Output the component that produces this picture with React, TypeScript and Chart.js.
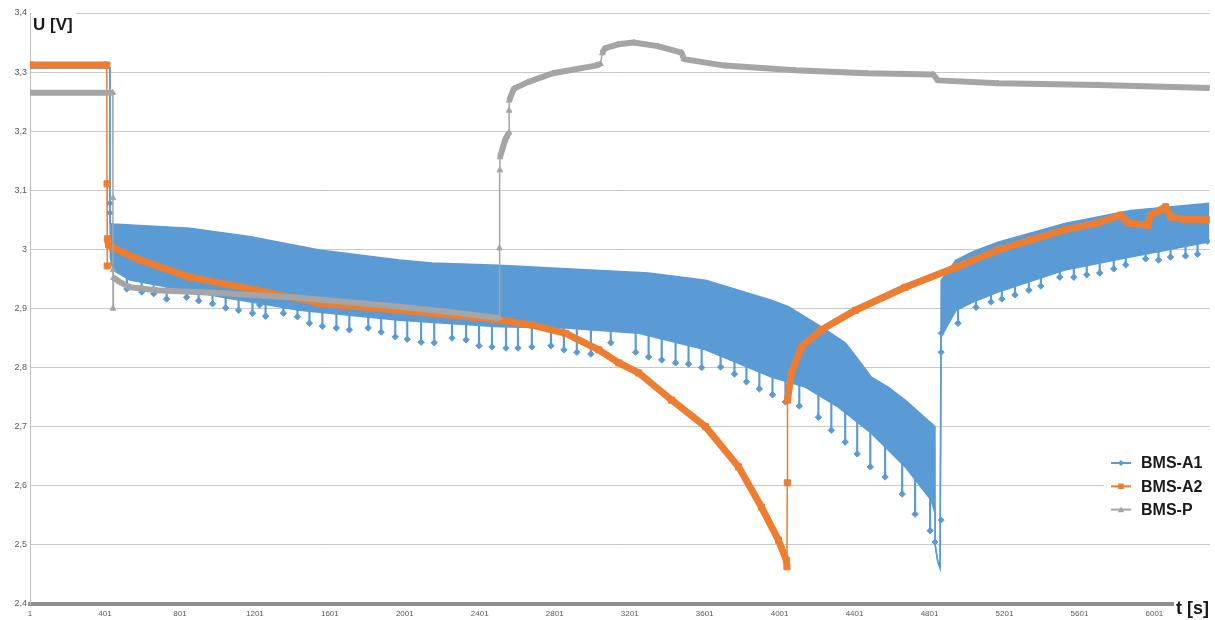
import React, { useEffect, useRef } from 'react';
import { Chart, registerables } from 'chart.js';

Chart.register(...registerables);

// ---------- data ----------
const xTickValues = [1, 401, 801, 1201, 1601, 2001, 2401, 2801, 3201, 3601, 4001, 4401, 4801, 5201, 5601, 6001];
const yTickValues = [2.4, 2.5, 2.6, 2.7, 2.8, 2.9, 3.0, 3.1, 3.2, 3.3, 3.4];
const seriesNames = ['BMS-A1', 'BMS-A2', 'BMS-P'];
const xMin = 1;
const xMax = 6296;

// BMS-A1: upper edge of the dense oscillation band [t, U]
const a1Upper: [number, number][] = [
  [1, 3.307], [427, 3.307], [427.5, 3.078], [428, 3.062], [429, 3.044], [443, 3.043], [853, 3.036],
  [1172, 3.022], [1545, 2.999], [1971, 2.982], [2147, 2.977], [2504, 2.973], [3302, 2.96], [3606, 2.948],
  [3957, 2.914], [4048, 2.903], [4224, 2.869], [4351, 2.842], [4405, 2.82], [4490, 2.784], [4580, 2.767],
  [4671, 2.745], [4830, 2.7], [4831, 2.5], [4845, 2.472], [4857, 2.461], [4862, 2.461], [4863, 2.948],
  [4942, 2.982], [5033, 2.996], [5166, 3.012], [5523, 3.044], [5874, 3.066], [6295, 3.078],
];

// BMS-A1: lower edge of the dense oscillation band [t, U]
const a1Lower: [number, number][] = [
  [1, 3.307], [427, 3.307], [427.5, 3.078], [430, 2.985], [443, 2.965], [534, 2.948], [1029, 2.919],
  [1439, 2.897], [1971, 2.88], [2504, 2.869], [2860, 2.867], [3249, 2.858], [3606, 2.83], [3957, 2.784],
  [4138, 2.767], [4314, 2.733], [4490, 2.689], [4671, 2.632], [4809, 2.576], [4830, 2.554], [4831, 2.5],
  [4845, 2.472], [4857, 2.461], [4862, 2.461], [4863, 2.852], [4942, 2.897], [5033, 2.911], [5166, 2.928],
  [5523, 2.965], [5874, 2.987], [6295, 3.013],
];

// BMS-A1: tips of the periodic downward spikes [t, U]
const a1SpikeTips: [number, number][] = [
  [518, 2.933], [597, 2.928], [661, 2.925], [730, 2.916], [837, 2.919], [901, 2.913], [975, 2.908],
  [1045, 2.901], [1114, 2.897], [1188, 2.892], [1226, 2.906], [1258, 2.887], [1353, 2.892], [1428, 2.886],
  [1492, 2.875], [1561, 2.87], [1636, 2.867], [1705, 2.864], [1806, 2.867], [1875, 2.86], [1950, 2.852],
  [2014, 2.848], [2088, 2.843], [2158, 2.842], [2253, 2.85], [2328, 2.847], [2397, 2.837], [2466, 2.835],
  [2541, 2.833], [2605, 2.833], [2679, 2.835], [2781, 2.837], [2850, 2.83], [2919, 2.826], [2994, 2.823],
  [3100, 2.842], [3233, 2.826], [3302, 2.818], [3372, 2.813], [3446, 2.808], [3515, 2.806], [3585, 2.8],
  [3686, 2.801], [3760, 2.789], [3824, 2.776], [3893, 2.764], [3963, 2.754], [4032, 2.742], [4106, 2.735],
  [4208, 2.716], [4277, 2.694], [4351, 2.674], [4415, 2.654], [4485, 2.632], [4564, 2.615], [4655, 2.586],
  [4724, 2.552], [4804, 2.524], [4953, 2.875], [5049, 2.902], [5129, 2.911], [5187, 2.916], [5257, 2.923],
  [5331, 2.931], [5395, 2.938], [5496, 2.953], [5571, 2.953], [5640, 2.957], [5709, 2.96], [5784, 2.967],
  [5848, 2.974], [5954, 2.984], [6023, 2.982], [6087, 2.987], [6167, 2.989], [6231, 2.992], [6284, 3.014],
];

// BMS-A1: isolated markers on the steep jumps [t, U]
const a1JumpMarks: [number, number][] = [
  [427.5, 3.078], [428, 3.062], [4830, 2.505], [4863, 2.542], [4863, 2.826], [4863, 2.858],
];

// BMS-A2 [t, U]
const a2Values: [number, number][] = [
  [1, 3.312], [411, 3.312], [412, 3.111], [413, 2.972], [414, 3.018], [420, 3.008], [443, 3.003],
  [587, 2.982], [853, 2.953], [1210, 2.931], [1545, 2.909], [1971, 2.897], [2504, 2.881], [2679, 2.872],
  [2860, 2.858], [3036, 2.83], [3143, 2.808], [3249, 2.791], [3425, 2.745], [3606, 2.7], [3782, 2.632],
  [3904, 2.564], [3995, 2.508], [4037, 2.474], [4040, 2.463], [4042, 2.605], [4043, 2.745], [4064, 2.791],
  [4117, 2.835], [4224, 2.864], [4405, 2.897], [4671, 2.936], [4942, 2.97], [5166, 2.999], [5342, 3.016],
  [5523, 3.033], [5699, 3.045], [5821, 3.058], [5858, 3.045], [5965, 3.041], [5981, 3.058], [6061, 3.072],
  [6087, 3.055], [6162, 3.051], [6295, 3.05],
];

// BMS-P [t, U]
const pValues: [number, number][] = [
  [1, 3.265], [443, 3.265], [443.5, 3.087], [444, 2.9], [444.5, 2.965], [447, 2.952], [480, 2.945],
  [534, 2.936], [677, 2.931], [1029, 2.926], [1439, 2.918], [1971, 2.903], [2237, 2.894], [2504, 2.884],
  [2506, 3.002], [2508, 3.134], [2509, 3.156], [2536, 3.185], [2557, 3.198], [2557.5, 3.235], [2558, 3.252],
  [2583, 3.272], [2658, 3.283], [2791, 3.298], [3020, 3.311], [3045, 3.314], [3055, 3.332], [3068, 3.34],
  [3140, 3.347], [3222, 3.35], [3350, 3.344], [3478, 3.333], [3490, 3.322], [3707, 3.311], [4085, 3.303],
  [4468, 3.298], [4820, 3.296], [4846, 3.286], [5166, 3.281], [5699, 3.278], [6295, 3.273],
];

// ---------- styles ----------
const BLUE = '#5B9BD5';
const ORANGE = '#ED7D31';
const GRAY = '#A5A5A5';
const FONT = "'Liberation Sans', Arial, sans-serif";
const SPIKE_STEM = 0.06;

const toXY = (arr: [number, number][]) => arr.map(([x, y]) => ({ x, y }));
const fmtY = (v: number) => String(Number(v.toFixed(1))).replace('.', ',');

const steepWidth = (w: number) => (ctx: any) => {
  const dx = Math.abs(ctx.p1.x - ctx.p0.x);
  const dy = Math.abs(ctx.p1.y - ctx.p0.y);
  return dx < 2 && dy > 6 ? 1.5 : w;
};

function drawMarker(ctx: CanvasRenderingContext2D, style: string, x: number, y: number, r: number) {
  ctx.beginPath();
  if (style === 'diamond') {
    ctx.moveTo(x, y - r); ctx.lineTo(x + r, y); ctx.lineTo(x, y + r); ctx.lineTo(x - r, y);
  } else if (style === 'square') {
    ctx.rect(x - r, y - r, 2 * r, 2 * r);
  } else {
    ctx.moveTo(x, y - r); ctx.lineTo(x + r, y + r * 0.8); ctx.lineTo(x - r, y + r * 0.8);
  }
  ctx.closePath();
  ctx.fill();
}

const overlayPlugin = {
  id: 'overlay',
  afterDraw(chart: any) {
    const ctx: CanvasRenderingContext2D = chart.ctx;
    const area = chart.chartArea;
    ctx.save();
    // axis title U [V]
    ctx.fillStyle = '#ffffff';
    ctx.fillRect(area.left + 1, 4, 45, 30);
    ctx.fillStyle = '#1a1a1a';
    ctx.font = `bold 17px ${FONT}`;
    ctx.textAlign = 'left';
    ctx.textBaseline = 'alphabetic';
    ctx.fillText('U [V]', area.left + 3, 30);
    // axis title t [s]
    ctx.fillStyle = '#ffffff';
    ctx.fillRect(1174, 596, 41, 24);
    ctx.fillStyle = '#1a1a1a';
    ctx.font = `bold 18px ${FONT}`;
    ctx.textBaseline = 'middle';
    ctx.fillText('t [s]', 1176, 609);
    // legend
    ctx.fillStyle = '#ffffff';
    ctx.fillRect(1104, 450, 111, 72);
    const entries = [
      { name: seriesNames[0], color: BLUE, marker: 'diamond', r: 3 },
      { name: seriesNames[1], color: ORANGE, marker: 'square', r: 2.8 },
      { name: seriesNames[2], color: GRAY, marker: 'triangle', r: 3.2 },
    ];
    entries.forEach((e, i) => {
      const y = 463 + i * 23.3;
      ctx.strokeStyle = e.color;
      ctx.lineWidth = 2;
      ctx.beginPath();
      ctx.moveTo(1111, y);
      ctx.lineTo(1131, y);
      ctx.stroke();
      ctx.fillStyle = e.color;
      drawMarker(ctx, e.marker, 1121, y, e.r);
      ctx.fillStyle = '#1a1a1a';
      ctx.font = `bold 16px ${FONT}`;
      ctx.textBaseline = 'middle';
      ctx.fillText(e.name, 1141, y + 1);
    });
    ctx.restore();
  },
};

export default function App() {
  const canvasRef = useRef<HTMLCanvasElement | null>(null);

  useEffect(() => {
    if (!canvasRef.current) return;
    Chart.defaults.font.family = FONT;
    const chart = new Chart(canvasRef.current, {
      type: 'line',
      data: {
        datasets: [
          {
            label: seriesNames[2],
            data: toXY(pValues),
            borderColor: GRAY,
            backgroundColor: GRAY,
            borderWidth: 6,
            pointStyle: 'triangle',
            pointRadius: 3.3,
            pointBorderWidth: 1,
            pointBorderColor: GRAY,
            pointBackgroundColor: GRAY,
            segment: { borderWidth: steepWidth(6) },
            borderJoinStyle: 'round',
            tension: 0,
            order: 0,
          } as any,
          {
            label: seriesNames[1],
            data: toXY(a2Values),
            borderColor: ORANGE,
            backgroundColor: ORANGE,
            borderWidth: 7,
            pointStyle: 'rect',
            pointRadius: 4.3,
            pointBorderWidth: 1,
            pointBorderColor: ORANGE,
            pointBackgroundColor: ORANGE,
            segment: { borderWidth: steepWidth(7) },
            borderJoinStyle: 'round',
            tension: 0,
            order: 1,
          } as any,
          {
            label: seriesNames[0],
            data: toXY(a1Upper),
            borderColor: BLUE,
            backgroundColor: BLUE,
            borderWidth: 1.5,
            pointRadius: 0,
            fill: '+1',
            tension: 0,
            order: 2,
          },
          {
            label: seriesNames[0] + ' min',
            data: toXY(a1Lower),
            borderColor: BLUE,
            backgroundColor: BLUE,
            borderWidth: 1.5,
            pointRadius: 0,
            fill: false,
            tension: 0,
            order: 3,
          },
          {
            label: seriesNames[0] + ' marks',
            data: toXY(a1JumpMarks),
            showLine: false,
            pointStyle: 'rectRot',
            pointRadius: 3,
            pointBackgroundColor: BLUE,
            pointBorderColor: BLUE,
            order: 4,
          },
          {
            label: seriesNames[0] + ' spikes',
            data: toXY(a1SpikeTips),
            showLine: false,
            pointStyle: 'rectRot',
            pointRadius: 3.2,
            pointBackgroundColor: BLUE,
            pointBorderColor: BLUE,
            order: 5,
          },
          {
            type: 'bar',
            label: seriesNames[0] + ' stems',
            data: a1SpikeTips.map(([x, y]) => ({ x, y: [y, y + SPIKE_STEM] })),
            backgroundColor: BLUE,
            borderWidth: 0,
            barThickness: 1.5,
            grouped: false,
            order: 6,
          } as any,
        ],
      },
      options: {
        responsive: false,
        animation: false,
        events: [],
        layout: { padding: { top: 13, right: 3, left: 0, bottom: 0 } },
        plugins: {
          legend: { display: false },
          tooltip: { enabled: false },
          title: { display: false },
        },
        scales: {
          x: {
            type: 'linear',
            min: xMin,
            max: xMax,
            offset: false,
            grid: { display: false, drawTicks: false },
            border: { display: true, color: '#8f8f8f', width: 4 },
            ticks: {
              autoSkip: false,
              maxRotation: 0,
              minRotation: 0,
              padding: 5,
              color: '#595959',
              font: { size: 8, family: FONT },
              callback: (v: any) => String(v),
            },
            afterBuildTicks: (s: any) => {
              s.ticks = xTickValues.map((v) => ({ value: v }));
            },
            afterFit: (s: any) => {
              s.height = 16;
            },
          },
          y: {
            type: 'linear',
            min: 2.4,
            max: 3.4,
            grid: { color: '#c8c8c8', lineWidth: 1, drawTicks: false },
            border: { display: true, color: '#bfbfbf', width: 1 },
            ticks: {
              padding: 3,
              color: '#595959',
              font: { size: 9, family: FONT },
              callback: (v: any) => fmtY(Number(v)),
            },
            afterBuildTicks: (s: any) => {
              s.ticks = yTickValues.map((v) => ({ value: v }));
            },
            afterFit: (s: any) => {
              s.width = 30;
            },
          },
        },
      } as any,
      plugins: [overlayPlugin],
    });
    return () => chart.destroy();
  }, []);

  return (
    <div style={{ position: 'absolute', left: 0, top: 0, width: 1215, height: 620, background: '#ffffff' }}>
      <canvas ref={canvasRef} width={1215} height={620} style={{ display: 'block', width: 1215, height: 620 }} />
    </div>
  );
}
